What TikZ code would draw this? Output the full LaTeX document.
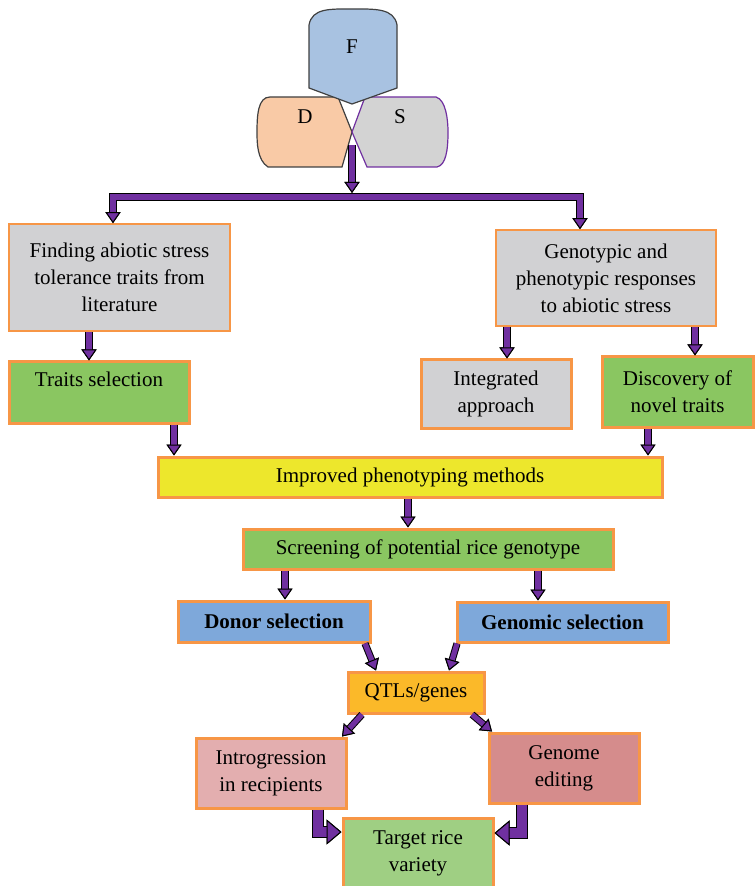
\documentclass[tikz,border=0pt]{standalone}
\usepackage{fontspec}
\setmainfont{Liberation Serif}
\usetikzlibrary{positioning,arrows.meta,calc}

\definecolor{arrowpurple}{HTML}{7030A0}
\definecolor{boxorange}{HTML}{F79646}
\definecolor{boxgrey}{HTML}{D1D1D3}
\definecolor{leafgreen}{HTML}{8AC661}
\definecolor{palegreen}{HTML}{9FCF83}
\definecolor{boxyellow}{HTML}{EDE72C}
\definecolor{boxblue}{HTML}{7EA8DA}
\definecolor{boxamber}{HTML}{FBB929}
\definecolor{boxpink}{HTML}{E3AEAF}
\definecolor{boxrose}{HTML}{D58C8C}
\definecolor{fblue}{HTML}{A8C2E1}
\definecolor{dpeach}{HTML}{F9CAA6}
\definecolor{sgrey}{HTML}{D3D3D3}

\begin{document}
\begin{tikzpicture}[
    x=0.5pt, y=-0.5pt,
    box/.style={draw=boxorange, line width=1.5pt, inner sep=0pt, align=center,
        font=\fontsize{10.5}{13.5}\selectfont},
    thinbox/.style={box, line width=0.8pt},
    tag/.style={font=\fontsize{10.5}{13.5}\selectfont},
    flow/.style={draw=arrowpurple, line width=2.6pt,
        -{Triangle[length=5.5pt, width=7.5pt, color=black, fill=arrowpurple, line width=0.5pt]},
        preaction={draw=black, line width=3.6pt,
            -{Triangle[length=5.5pt, width=7.5pt, color=black, fill=arrowpurple, line width=0.5pt]}}},
    bigflow/.style={draw=arrowpurple, line width=4.6pt,
        -{Triangle[length=7.5pt, width=12.5pt, color=black, fill=arrowpurple, line width=0.5pt]},
        preaction={draw=black, line width=5.6pt,
            -{Triangle[length=7.5pt, width=12.5pt, color=black, fill=arrowpurple, line width=0.5pt]}}},
]
\useasboundingbox (0,0) rectangle (755,886);

% F, D and S blocks at the top
\draw[draw=black!75, fill=dpeach, line width=0.6pt] (338,97) -- (352,132) -- (342,167) -- (268,167)
    .. controls (257,160) and (257,142) .. (257,132) .. controls (257,115) and (258,97) .. (270,97) -- cycle;
\draw[draw=arrowpurple, fill=sgrey, line width=0.6pt] (365,97) -- (436,97)
    .. controls (446,100) and (448,120) .. (448,132) .. controls (448,150) and (446,165) .. (437,167)
    -- (367,167) -- (352,132) -- cycle;
\draw[draw=black!75, fill=fblue, line width=0.6pt] (309,88) -- (309,25)
    .. controls (312,8) and (330,9) .. (352,9) .. controls (375,9) and (394,8) .. (397,25)
    -- (397,88) -- (352,104) -- cycle;
\node[tag] (f) at (352,47) {F};
\node[tag] (d) at (305,117) {D};
\node[tag] (s) at (400,117) {S};
\coordinate (dsjoin) at (352,145);
\coordinate (hub) at (352,197);

% Boxes
\node[thinbox, fill=boxgrey, minimum width=110.5pt, minimum height=53.5pt] (find) at (119.5,277.5)
    {Finding abiotic stress\\tolerance traits from\\literature};
\node[thinbox, fill=boxgrey, minimum width=110pt, minimum height=48pt] (geno) at (606,278)
    {Genotypic and\\phenotypic responses\\to abiotic stress};
\node[box, fill=leafgreen, minimum width=90pt, minimum height=30.5pt] (traits) at (99,392.5)
    {Traits selection\\\mbox{}};
\node[box, fill=boxgrey, minimum width=75pt, minimum height=34pt] (integ) at (496,394)
    {Integrated\\approach};
\node[box, fill=leafgreen, minimum width=75.5pt, minimum height=35pt] (novel) at (677.5,392)
    {Discovery of\\novel traits};
\node[box, fill=boxyellow, minimum width=252pt, minimum height=20pt] (improved) at (410,477)
    {Improved phenotyping methods};
\node[box, fill=leafgreen, minimum width=185pt, minimum height=20pt] (screen) at (428,549)
    {Screening of potential rice genotype};
\node[box, fill=boxblue, minimum width=96pt, minimum height=20.5pt] (donor) at (274,621.5)
    {\bfseries Donor selection};
\node[box, fill=boxblue, minimum width=105.5pt, minimum height=20pt] (genomic) at (562.5,622)
    {\bfseries Genomic selection};
\node[box, fill=boxamber, minimum width=68pt, minimum height=20.5pt] (qtl) at (416,692.5)
    {QTLs/genes};
\node[box, fill=boxpink, minimum width=75pt, minimum height=35pt] (intro) at (271,773)
    {Introgression\\in recipients};
\node[box, fill=boxrose, minimum width=75pt, minimum height=35pt] (genome) at (564,768)
    {Genome\\editing};
\node[box, fill=palegreen, minimum width=75pt, minimum height=35pt] (target) at (418,853)
    {Target rice\\variety};

% Connectors
\draw[flow] (hub) -| (find.north -| 113,0);
\draw[flow] (hub) -| (geno.north -| 580,0);
\draw[flow] (dsjoin) -- ([yshift=2pt]hub);
\draw[flow] (find.south -| 89,0) -- (traits.north -| 89,0);
\draw[flow] (geno.south -| 507,0) -- (integ.north -| 507,0);
\draw[flow] (geno.south -| 695,0) -- (novel.north -| 695,0);
\draw[flow] (traits.south -| 174,0) -- (improved.north -| 174,0);
\draw[flow] (novel.south -| 648,0) -- (improved.north -| 648,0);
\draw[flow] (improved.south -| 408,0) -- (screen.north -| 408,0);
\draw[flow] (screen.south -| 285,0) -- (donor.north -| 285,0);
\draw[flow] (screen.south -| 538,0) -- (genomic.north -| 538,0);
\draw[flow] (donor.south -| 365,0) -- (qtl.north -| 376,0);
\draw[flow] (genomic.south -| 457,0) -- (qtl.north -| 449,0);
\draw[flow] (qtl.south -| 362,0) -- (intro.north -| 342,0);
\draw[flow] (qtl.south -| 472,0) -- (genome.north -| 492,0);
\draw[bigflow] (intro.south -| 318,0) |- (target.west |- 0,832);
\draw[bigflow] (genome.south -| 522,0) |- (target.east |- 0,833);

\end{tikzpicture}
\end{document}
